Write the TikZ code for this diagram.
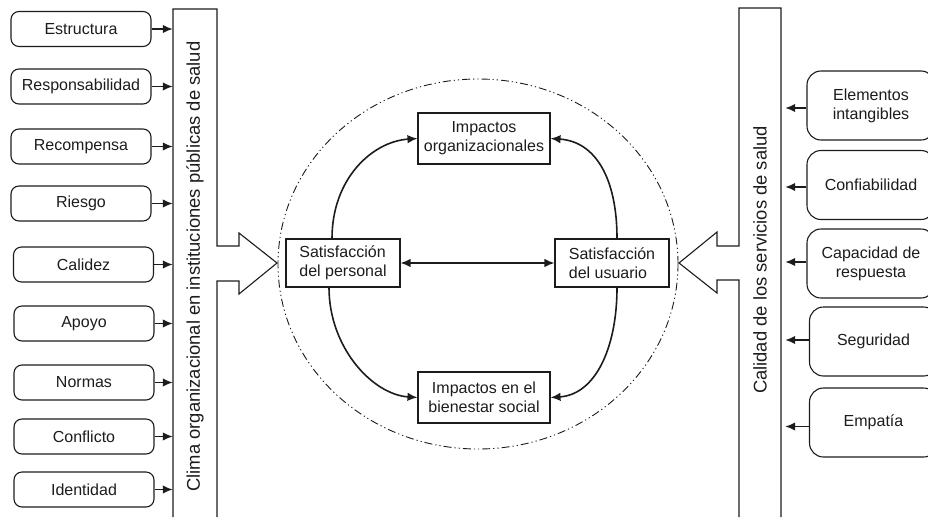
\documentclass[tikz,border=0pt]{standalone}
\usepackage{fontspec}
\setmainfont{Liberation Sans}
\usetikzlibrary{arrows.meta,shapes.geometric}
\definecolor{ink}{RGB}{30,27,28}
\newcommand{\bxfont}{\fontsize{16}{19}\selectfont}
\newcommand{\vtfont}{\fontsize{18.4}{22}\selectfont}
\begin{document}
\begin{tikzpicture}[x=1pt,y=-1pt,
  lbox/.style={draw=ink, line width=1.1pt, rounded corners=8pt, minimum width=140pt, minimum height=35pt, inner sep=0pt, font=\bxfont, text=ink},
  rbox/.style={draw=ink, line width=1.1pt, rounded corners=14pt, minimum width=128pt, minimum height=69pt, inner sep=0pt, align=center, font=\bxfont, text=ink},
  cbox/.style={draw=ink, line width=1.1pt, inner sep=0pt, font=\bxfont, text=ink},
  arr/.style={-{Latex[length=10pt,width=8.5pt]}, line width=1.6pt, draw=ink},
  darr/.style={{Latex[length=10pt,width=8.5pt]}-{Latex[length=10pt,width=8.5pt]}, line width=1.6pt, draw=ink},
  barline/.style={draw=ink, line width=1.1pt},
  vtext/.style={rotate=90, font=\vtfont, text=ink, inner sep=0pt},
  anchorbox/.style={inner sep=0pt, minimum width=#1, minimum height=508pt},
]
\useasboundingbox (0,0) rectangle (928,517);

% ---- left bar ----
\node[anchorbox=44pt] (barL) at (195,263) {};
\draw[barline] (173,517) -- (173,9) -- (217,9) -- (217,246) -- (239,246) -- (239,233)
  -- (277,263) -- (239,294) -- (239,281) -- (217,281) -- (217,517);
\node[vtext] (barLtext) at (195,266.5) {Clima organizacional en instituciones públicas de salud};

% ---- right bar ----
\node[anchorbox=42pt] (barR) at (760,262.5) {};
\draw[barline] (781,517) -- (781,8) -- (739,8) -- (739,246) -- (717,246) -- (717,232)
  -- (679,263) -- (717,293) -- (717,280) -- (739,280) -- (739,517);
\node[vtext] (barRtext) at (760,260) {Calidad de los servicios de salud};

% ---- left boxes ----
\node[lbox] (estr) at (81,29) {Estructura};
\node[lbox] (resp) at (81,86.5) {Responsabilidad};
\node[lbox] (reco) at (81,146.5) {Recompensa};
\node[lbox] (ries) at (81,203.5) {Riesgo};
\node[lbox] (cali) at (83.5,264.5) {Calidez};
\node[lbox] (apoy) at (84,323.5) {Apoyo};
\node[lbox] (norm) at (84,382.5) {Normas};
\node[lbox] (conf) at (84,436.5) {Conflicto};
\node[lbox] (iden) at (84,489.5) {Identidad};
\foreach \n in {estr,resp,reco,ries,cali,apoy,norm,conf,iden}
  \draw[arr] (\n.east) -- (\n.east -| barL.west);

% ---- right boxes ----
\node[rbox] (elem) at (871,105.5) {Elementos\\intangibles};
\node[rbox] (cfbl) at (871,185) {Confiabilidad};
\node[rbox] (capa) at (871,263.5) {Capacidad de\\respuesta};
\node[rbox] (segu) at (873.5,341.5) {Seguridad};
\node[rbox] (empa) at (873.5,422.5) {Empatía};
\draw[arr, shorten >=4pt] ([yshift=-2.5pt]elem.west) -- ([yshift=-2.5pt]elem.west -| barR.east);
\draw[arr, shorten >=4pt] ([yshift=-2pt]cfbl.west) -- ([yshift=-2pt]cfbl.west -| barR.east);
\draw[arr, shorten >=4pt] ([yshift=1.5pt]capa.west) -- ([yshift=1.5pt]capa.west -| barR.east);
\draw[arr, shorten >=4pt] ([yshift=1.5pt]segu.west) -- ([yshift=1.5pt]segu.west -| barR.east);
\draw[arr, shorten >=4pt] ([yshift=-4pt]empa.west) -- ([yshift=-4pt]empa.west -| barR.east);

% ---- centre ----
\node[ellipse, draw=ink, line width=0.9pt, minimum width=400pt, minimum height=370pt, inner sep=0pt,
  dash pattern=on 8pt off 3pt on 1.2pt off 3pt on 1.2pt off 3pt] (halo) at (478,264) {};
\node[cbox, minimum width=132pt, minimum height=51pt, align=center] (iorg) at (484,138.5) {Impactos\\organizacionales};
\node[cbox, minimum width=114pt, minimum height=48pt, align=left] (spers) at (343,263) {Satisfacción\\del personal};
\node[cbox, minimum width=114pt, minimum height=48pt, align=left] (susu) at (612,263) {Satisfacción\\del usuario};
\node[cbox, minimum width=132pt, minimum height=51pt, align=center] (ibien) at (484,397.5) {Impactos en el\\bienestar social};

\draw[darr] (spers.east) -- (susu.west);
\draw[arr] ([xshift=-11pt]spers.north) .. controls +(0,-60) and +(-45,3) .. (iorg.west);
\draw[arr] ([xshift=5pt]susu.north) .. controls +(0,-60) and +(45,3) .. (iorg.east);
\draw[arr] ([xshift=-14pt]spers.south) .. controls +(0,60) and +(-45,-3) .. (ibien.west);
\draw[arr] ([xshift=5pt]susu.south) .. controls +(0,60) and +(45,-3) .. (ibien.east);
\end{tikzpicture}
\end{document}
